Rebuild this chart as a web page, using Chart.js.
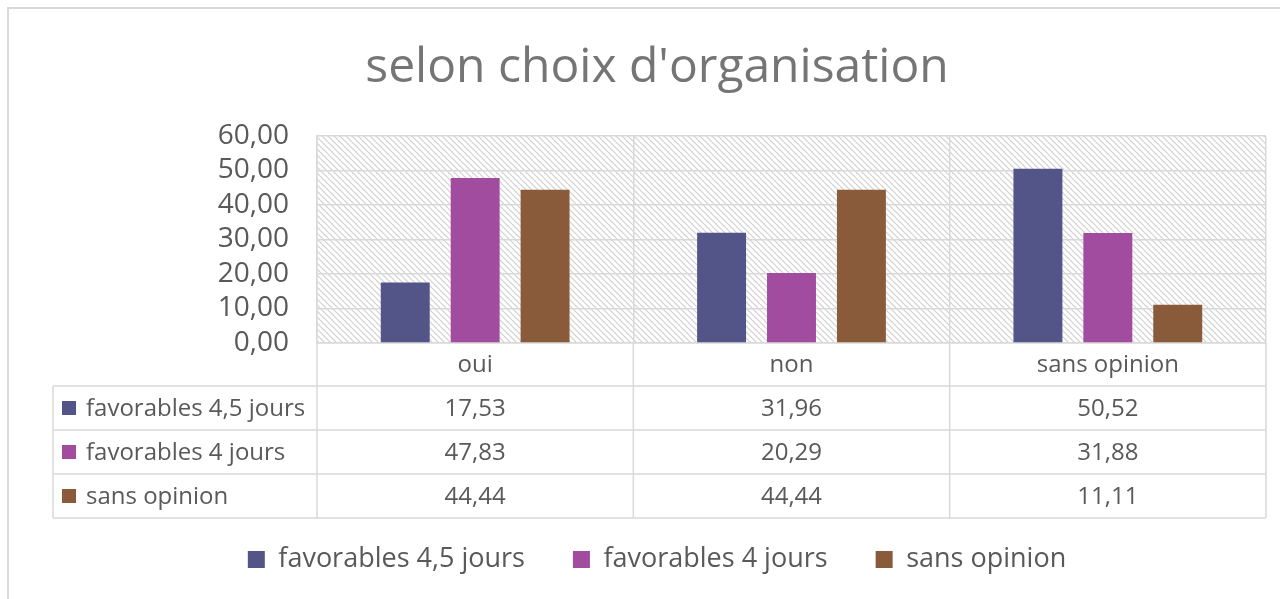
<!DOCTYPE html>
<html lang="fr">
<head>
<meta charset="utf-8">
<title>selon choix d'organisation</title>
<script src="https://cdn.jsdelivr.net/npm/chart.js@4.4.1/dist/chart.umd.min.js"></script>
<style>
  html, body { margin: 0; padding: 0; background: #fff; }
  #wrap { width: 1280px; height: 599px; position: relative; }
</style>
</head>
<body>
<div id="wrap"><canvas id="chart"></canvas></div>
<script>
// ---- Data ---------------------------------------------------------------
const categories = ["oui", "non", "sans opinion"];
const seriesNames = ["favorables 4,5 jours", "favorables 4 jours", "sans opinion"];
const fav45 = [17.53, 31.96, 50.52];
const fav4 = [47.83, 20.29, 31.88];
const noOpinion = [44.44, 44.44, 11.11];
const yTicks = [0, 10, 20, 30, 40, 50, 60];

const seriesValues = [fav45, fav4, noOpinion];
const seriesColors = ["#535488", "#a24ca0", "#8a5b3b"];

const FONT = "'Open Sans', 'Noto Sans', sans-serif";
const TEXT = "#595959";
const LINE = "#d9d9d9";

const fmt = (v) => Number(v).toFixed(2).replace(".", ",");

// light "\" hatch used behind the bars
const makeHatch = (ctx) => {
  const c = document.createElement("canvas");
  c.width = c.height = 6;
  const g = c.getContext("2d");
  g.strokeStyle = "#d0d0d0";
  g.lineWidth = 1.2;
  g.beginPath();
  g.moveTo(0, 0); g.lineTo(6, 6);
  g.moveTo(-3, 3); g.lineTo(3, 9);
  g.moveTo(3, -3); g.lineTo(9, 3);
  g.stroke();
  return ctx.createPattern(c, "repeat");
};

// ---- Plugins ------------------------------------------------------------
const frame = {
  id: "frame",
  beforeDraw(chart) {
    const { ctx, chartArea: a } = chart;
    ctx.save();
    ctx.strokeStyle = LINE;
    ctx.lineWidth = 2;
    ctx.strokeRect(8, 8, chart.width + 20, chart.height + 20);
    ctx.fillStyle = makeHatch(ctx);
    ctx.fillRect(a.left, a.top, a.right - a.left, a.bottom - a.top);
    ctx.restore();
  }
};

// data table under the plot (runs past the x axis box, into the legend's top padding)
const dataTable = {
  id: "dataTable",
  afterDraw(chart) {
    const { ctx, chartArea: a } = chart;
    const n = categories.length;
    const colW = (a.right - a.left) / n;
    const headH = 43, rowH = 44, labelLeft = 53;
    const top = a.bottom;
    const rowsTop = top + headH;
    const end = rowsTop + rowH * seriesValues.length;

    ctx.save();
    ctx.strokeStyle = LINE;
    ctx.lineWidth = 1.5;
    ctx.beginPath();
    for (let i = 0; i <= n; i++) {
      const x = a.left + i * colW;
      ctx.moveTo(x, top); ctx.lineTo(x, end);
    }
    ctx.moveTo(labelLeft, rowsTop); ctx.lineTo(labelLeft, end);
    for (let r = 0; r <= seriesValues.length; r++) {
      const y = rowsTop + r * rowH;
      ctx.moveTo(labelLeft, y); ctx.lineTo(a.right, y);
    }
    ctx.stroke();

    ctx.font = `24px ${FONT}`;
    ctx.textBaseline = "middle";
    seriesValues.forEach((vals, r) => {
      const cy = rowsTop + r * rowH + rowH / 2;
      ctx.fillStyle = seriesColors[r];
      ctx.fillRect(62, cy - 7, 14, 14);
      ctx.fillStyle = TEXT;
      ctx.textAlign = "left";
      ctx.fillText(seriesNames[r], 86, cy + 1);
      ctx.textAlign = "center";
      vals.forEach((v, i) => {
        ctx.fillText(fmt(v), chart.scales.x.getPixelForValue(i), cy + 1);
      });
    });
    ctx.restore();
  }
};

// ---- Chart --------------------------------------------------------------
new Chart(document.getElementById("chart"), {
  type: "bar",
  data: {
    labels: categories,
    datasets: seriesNames.map((name, i) => ({
      label: name,
      data: seriesValues[i],
      backgroundColor: seriesColors[i],
      borderWidth: 0,
      barPercentage: 0.7,
      categoryPercentage: 0.663
    }))
  },
  options: {
    responsive: true,
    maintainAspectRatio: false,
    animation: false,
    layout: { padding: { left: 48, right: 14, top: 0, bottom: 16 } },
    plugins: {
      title: {
        display: true,
        text: "selon choix d'organisation",
        color: "#757575",
        font: { family: FONT, size: 48, weight: "normal" },
        padding: { top: 40, bottom: 38.4 }
      },
      legend: {
        position: "bottom",
        labels: {
          color: TEXT,
          font: { family: FONT, size: 27 },
          boxWidth: 17,
          boxHeight: 17,
          padding: 48
        }
      },
      tooltip: { enabled: false }
    },
    scales: {
      x: {
        grid: { color: LINE, lineWidth: 1.5, drawTicks: false, offset: true },
        border: { color: LINE, width: 1.5 },
        ticks: { color: TEXT, font: { family: FONT, size: 24 }, padding: 8 },
        afterFit: (s) => { s.height = 155; }
      },
      y: {
        min: 0,
        max: 60,
        afterBuildTicks: (s) => { s.ticks = yTicks.map((v) => ({ value: v })); },
        grid: { color: LINE, lineWidth: 1.5, drawTicks: false },
        border: { color: LINE, width: 1.5 },
        ticks: {
          color: TEXT,
          font: { family: FONT, size: 28 },
          padding: 28,
          autoSkip: false,
          callback: (v) => fmt(v)
        },
        afterFit: (s) => { s.width = 269; }
      }
    }
  },
  plugins: [frame, dataTable]
});
</script>
</body>
</html>
